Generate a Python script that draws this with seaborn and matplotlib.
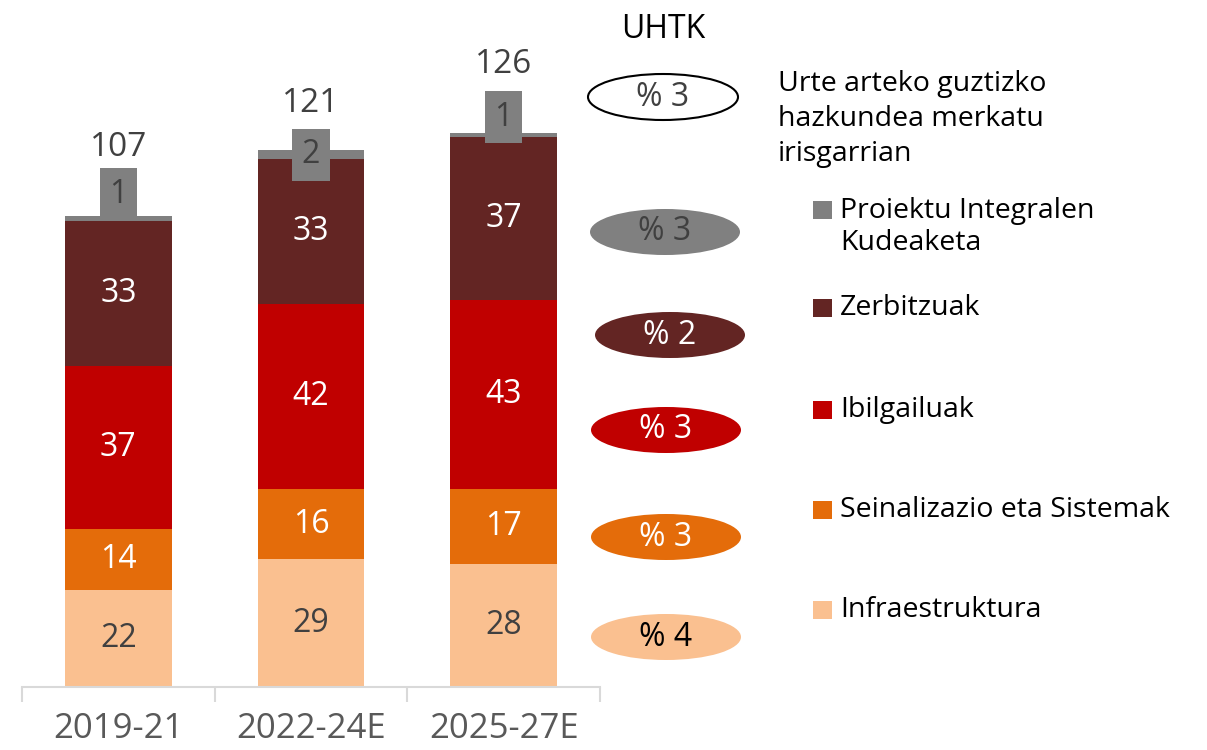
import numpy as np
import pandas as pd
import matplotlib
matplotlib.use("Agg")
import matplotlib.pyplot as plt
from matplotlib.patches import Ellipse, Rectangle
import seaborn as sns

# -----------------------------
# Data
# -----------------------------
PERIODS = ["2019-21", "2022-24E", "2025-27E"]
SEGMENTS = ["Infraestruktura", "Seinalizazio eta Sistemak", "Ibilgailuak",
            "Zerbitzuak", "Proiektu Integralen\nKudeaketa"]
INFRA = [22, 29, 28]
SEINAL = [14, 16, 17]
IBILG = [37, 42, 43]
ZERBI = [33, 33, 37]
PROIEK = [1, 2, 1]
TOTALS = [107, 121, 126]
# growth rates: total, proiektu, zerbitzuak, ibilgailuak, seinalizazio, infra
GROWTH = [3, 3, 2, 3, 3, 4]

COLORS = ["#FAC090", "#E46C0A", "#C00000", "#632523", "#808080"]
TEXT_COLORS = ["#404040", "white", "white", "white", "#404040"]

# -----------------------------
# Style
# -----------------------------
sns.set_theme(style="white")
plt.rcParams["font.family"] = ["Open Sans", "DejaVu Sans"]
FW = "normal"

fig = plt.figure(figsize=(12.07, 7.5), dpi=100)
ax = fig.add_axes([22 / 1207, 63 / 750, 578 / 1207, 660 / 750])

values = np.array([INFRA, SEINAL, IBILG, ZERBI, PROIEK], dtype=float)
cum = values.cumsum(axis=0)

# draw cumulative bars back-to-front so they look stacked
for i in range(len(SEGMENTS) - 1, -1, -1):
    df = pd.DataFrame({"period": PERIODS, "value": cum[i]})
    sns.barplot(data=df, x="period", y="value", color=COLORS[i],
                saturation=1, width=0.555, ax=ax, linewidth=0)

ax.set_xlim(-0.5, 2.5)
ax.set_ylim(0, 150)
ax.set_xlabel("")
ax.set_ylabel("")
ax.set_yticks([])
for s in ["top", "right", "left"]:
    ax.spines[s].set_visible(False)
ax.spines["bottom"].set_color("#d9d9d9")
ax.spines["bottom"].set_linewidth(1.5)
ax.tick_params(axis="x", which="major", length=0, pad=18,
               labelsize=25, labelcolor="#595959")
for lab in ax.get_xticklabels():
    lab.set_fontweight(FW)
ax.set_xticks([-0.5, 0.5, 1.5, 2.5], minor=True)
ax.tick_params(axis="x", which="minor", bottom=True, length=11, width=1.5,
               color="#d9d9d9", direction="out")

# segment labels
for j in range(len(PERIODS)):
    for i in range(4):
        mid = cum[i, j] - values[i, j] / 2
        ax.text(j, mid, f"{values[i, j]:.0f}", ha="center", va="center",
                fontsize=23, color=TEXT_COLORS[i], fontweight=FW)

# small project labels with grey box, and totals
LIFT = [5.0, -1.0, 3.5]
TOT_LIFT = [15.5, 10.5, 15.5]
for j in range(len(PERIODS)):
    ax.text(j, cum[-1, j] + LIFT[j], f"{PROIEK[j]}", ha="center", va="center",
            fontsize=23, color="#404040", fontweight=FW,
            bbox=dict(boxstyle="square,pad=0.3", fc="#808080", ec="none"))
    ax.text(j, cum[-1, j] + TOT_LIFT[j], f"{TOTALS[j]}", ha="center",
            va="center", fontsize=24, color="#404040", fontweight=FW)

# -----------------------------
# Right-hand panel (pixel overlay)
# -----------------------------
ov = fig.add_axes([0, 0, 1, 1])
ov.set_xlim(0, 1207)
ov.set_ylim(750, 0)
ov.axis("off")

ov.text(663, 30, "UHTK", ha="center", va="center", fontsize=23,
        color="black", fontweight=FW)

ell_y = [97, 232, 335, 430, 537, 637]
ell_x = [663, 665, 670, 666, 666, 666]
ell_fc = ["white", COLORS[4], COLORS[3], COLORS[2], COLORS[1], COLORS[0]]
ell_ec = ["black", "none", "none", "none", "none", "none"]
ell_tc = ["#404040", "#404040", "white", "white", "white", "black"]
for k in range(6):
    ov.add_patch(Ellipse((ell_x[k], ell_y[k]), 150, 46, fc=ell_fc[k],
                         ec=ell_ec[k], lw=1.5))
    ov.text(ell_x[k], ell_y[k], f"% {GROWTH[k]}", ha="center",
            va="center", fontsize=23, color=ell_tc[k], fontweight=FW)

ov.text(778, 119, "Urte arteko guztizko\nhazkundea merkatu\nirisgarrian",
        ha="left", va="center", fontsize=20.5, color="black",
        fontweight=FW, linespacing=1.35)

leg_y = [210, 308, 410, 510, 610]
leg_order = [4, 3, 2, 1, 0]
for y, i in zip(leg_y, leg_order):
    ov.add_patch(Rectangle((813, y - 9), 19, 18, fc=COLORS[i], ec="none"))
    two = "\n" in SEGMENTS[i]
    ov.text(840, y + (17 if two else 0), SEGMENTS[i], ha="left",
            va="center", fontsize=20.5, color="black", fontweight=FW,
            linespacing=1.2)

fig.savefig("out.png", dpi=100)
